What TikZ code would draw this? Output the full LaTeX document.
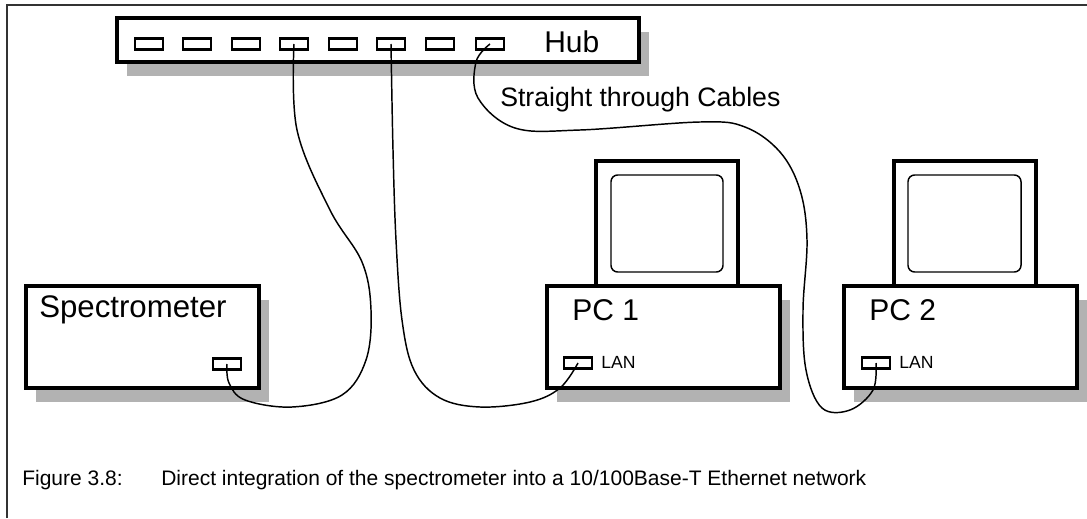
\documentclass[tikz,border=0pt]{standalone}
\usepackage{fontspec}
\setmainfont{Liberation Sans}
\usetikzlibrary{fit,shadows}
\begin{document}
\begin{tikzpicture}[x=0.75pt,y=-0.75pt,
  box/.style={draw, line width=2.5pt, fill=white, inner sep=0pt,
    drop shadow={shadow xshift=7.5pt, shadow yshift=-10.5pt, fill=black!30, opacity=1}},
  monitor/.style={draw, line width=2.5pt, fill=white, inner sep=0pt},
  screen/.style={draw, line width=1.1pt, rounded corners=5pt, inner sep=0pt},
  port/.style={draw, line width=2pt, fill=white, minimum width=21pt, minimum height=8.5pt, inner sep=0pt},
  cable/.style={line width=1.1pt},
  big/.style={font=\fontsize{22.5}{26}\selectfont, inner sep=0pt},
  mid/.style={font=\fontsize{20}{24}\selectfont, inner sep=0pt},
  small/.style={font=\fontsize{13.2}{16}\selectfont, inner sep=0pt},
  captxt/.style={font=\fontsize{15.75}{19}\selectfont, inner sep=0pt}]
\useasboundingbox (0,0) rectangle (1087,518);
% frame
\draw[line width=0.9pt, black!80] (7,518) -- (7,5) -- (1087,5);
% hub
\node[box, fit={(117,18) (639,62)}] (hub) {};
\foreach \i/\x in {1/149,2/197,3/246,4/294,5/343,6/391,7/440,8/490}
  \node[port] (p\i) at (\x,44) {};
\node[big, anchor=base west] (hublbl) at (544,52) {Hub};
\node[mid, anchor=base west] (stlbl) at (500,106) {Straight through Cables};
% spectrometer
\node[box, fit={(26,286) (259,388)}] (spec) {};
\node[big, anchor=base west, font=\fontsize{23.4}{26}\selectfont] (speclbl) at (39,317) {Spectrometer};
\node[port] (sport) at (227,364) {};
% PC1
\node[box, fit={(547,286) (780,388)}] (pc1) {};
\node[monitor, fit={(596,161) (738,286)}] (mon1) {};
\node[screen, fit={(611,175) (723,272)}] (scr1) {};
\node[big, anchor=base west] (pc1lbl) at (572,320) {PC 1};
\node[port] (lan1) at (578,363) {};
\node[small, anchor=base west] (lan1lbl) at (601,368) {LAN};
% PC2
\node[box, fit={(844,286) (1077,388)}] (pc2) {};
\node[monitor, fit={(894,161) (1036,286)}] (mon2) {};
\node[screen, fit={(908,175) (1021,272)}] (scr2) {};
\node[big, anchor=base west] (pc2lbl) at (869,320) {PC 2};
\node[port] (lan2) at (876,363) {};
\node[small, anchor=base west] (lan2lbl) at (899,368) {LAN};
% cables
\draw[cable] plot[smooth, tension=0.6] coordinates {(p4.center) (297,130) (330,210) (362,262) (371,310) (366,360) (342,395) (292,407) (245,400) (229,383) (sport.center)};
\draw[cable] plot[smooth, tension=0.6] coordinates {(p6.center) (393,150) (396,240) (402,320) (414,370) (440,398) (480,407) (530,402) (560,388) (lan1.center)};
\draw[cable] plot[smooth, tension=0.6] coordinates {(p8.center) (476,62) (478,98) (515,128) (580,130) (700,122) (745,127) (780,152) (800,190) (807,240) (803,310) (806,370) (822,408) (850,410) (873,390) (lan2.center)};
% caption
\node[captxt, anchor=base west] (figno) at (22,485) {Figure 3.8:};
\node[captxt, anchor=base west] (figtxt) at (161,485) {Direct integration of the spectrometer into a 10/100Base-T Ethernet network};
\end{tikzpicture}
\end{document}
